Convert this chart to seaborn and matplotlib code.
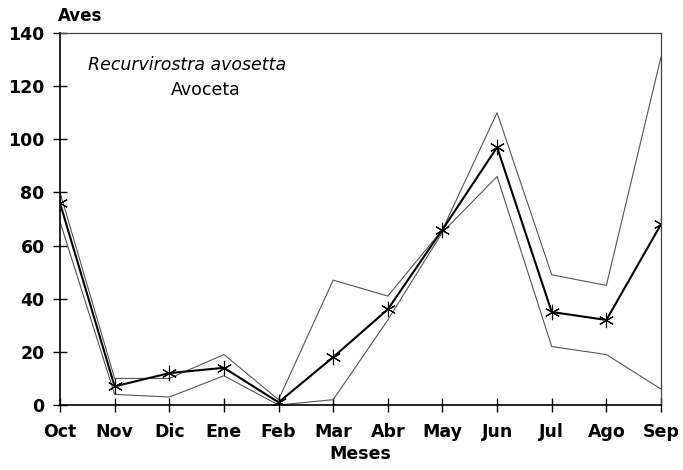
import matplotlib
matplotlib.use("Agg")
import matplotlib.pyplot as plt
import seaborn as sns
import pandas as pd
import numpy as np

months = ["Oct", "Nov", "Dic", "Ene", "Feb", "Mar", "Abr", "May", "Jun", "Jul", "Ago", "Sep"]
media = [76, 7, 12, 14, 1, 18, 36, 66, 97, 35, 32, 68]
superior = [80, 10, 10, 19, 2, 47, 41, 66, 110, 49, 45, 131]
inferior = [69, 4, 3, 11, 0, 2, 32, 65, 86, 22, 19, 6]
yticks = [0, 20, 40, 60, 80, 100, 120, 140]

sns.set_theme(style="white")
plt.rcParams['font.family'] = ['DejaVu Sans']
plt.rcParams['text.color'] = 'black'

fig = plt.figure(figsize=(6.83, 4.70), dpi=100)
ax = fig.add_axes([60/683, 1 - 405/470, (661-60)/683, (405-33)/470])

pos = np.arange(len(months))
df = pd.DataFrame({"pos": pos, "media": media, "sup": superior, "inf": inferior})

sns.lineplot(data=df, x="pos", y="sup", ax=ax, color="#555555", linewidth=0.8)
sns.lineplot(data=df, x="pos", y="inf", ax=ax, color="#555555", linewidth=0.8)
sns.lineplot(data=df, x="pos", y="media", ax=ax, color="black", linewidth=1.5,
             marker=(6, 2, 0), markersize=11, markeredgewidth=0.8,
             markeredgecolor="black", markerfacecolor="black")

ax.set_xlim(0, len(months) - 1)
ax.set_ylim(0, 140)
ax.set_xticks(pos)
ax.set_xticklabels(months)
ax.set_yticks(yticks)
ax.set_yticklabels([str(v) for v in yticks])
ax.tick_params(axis="both", which="major", direction="inout", length=10, width=1,
               color="black", labelcolor="black", labelsize=12.5,
               bottom=True, left=True, top=False, right=False)
ax.tick_params(axis="x", pad=8)
ax.tick_params(axis="y", pad=6)
for lbl in ax.get_xticklabels() + ax.get_yticklabels():
    lbl.set_fontweight("bold")

for s in ["left", "bottom"]:
    ax.spines[s].set_color("black")
    ax.spines[s].set_linewidth(1.2)
for s in ["top", "right"]:
    ax.spines[s].set_color("#444444")
    ax.spines[s].set_linewidth(0.9)

ax.set_xlabel("Meses", fontsize=12.5, fontweight="bold", labelpad=3, color="black")
ax.set_ylabel("")
fig.text(58/683, 1 - 16/470, "Aves", fontsize=12, fontweight="bold", ha="left",
         va="center", color="black")
ax.text(0.046, 0.915, "Recurvirostra avosetta", transform=ax.transAxes, fontsize=12.5,
        style="italic", ha="left", va="center", color="black")
ax.text(0.243, 0.848, "Avoceta", transform=ax.transAxes, fontsize=12.5,
        ha="center", va="center", color="black")

fig.savefig("out.png", dpi=100)
